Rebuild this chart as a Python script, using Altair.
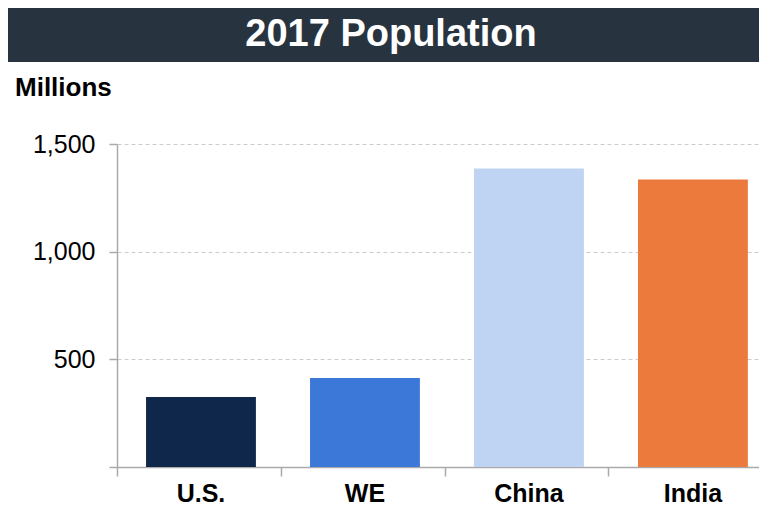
import altair as alt
import pandas as pd

categories = ["U.S.", "WE", "China", "India"]
values = [325, 413, 1386, 1335]
colors = ["#10274c", "#3c78d8", "#bfd4f2", "#ec7a3d"]
title_text = "2017 Population"
unit_label = "Millions"
y_ticks = [0, 500, 1000, 1500]

FONT = "Liberation Sans"

df = pd.DataFrame({"country": categories, "pop": values})
title_df = pd.DataFrame({"t": [title_text]})
unit_df = pd.DataFrame({"t": [unit_label]})

bars = alt.Chart(df).mark_bar().encode(
    x=alt.X(
        "country:N",
        sort=categories,
        scale=alt.Scale(paddingInner=0.33, paddingOuter=0.1225, align=0.723),
        axis=alt.Axis(
            title=None, labelAngle=0, labelFont=FONT, labelFontSize=25,
            labelFontWeight="bold", labelColor="black", labelPadding=5,
            tickSize=9, tickColor="#aaaaaa", tickWidth=1.5,
            domainColor="#aaaaaa", domainWidth=1.5, bandPosition=-0.264, grid=False,
        ),
    ),
    y=alt.Y(
        "pop:Q",
        scale=alt.Scale(domain=[0, 1500], nice=False),
        axis=alt.Axis(
            values=y_ticks, format=",.0f", title=None,
            labelExpr="datum.value == 0 ? '' : datum.label",
            labelFont=FONT, labelFontSize=25, labelColor="black", labelPadding=14,
            tickSize=8, tickColor="#aaaaaa", tickWidth=1.5,
            domainColor="#aaaaaa", domainWidth=1.5,
            grid=True, gridColor="#cccccc", gridDash=[4, 3], gridWidth=1,
        ),
    ),
    color=alt.Color("country:N", scale=alt.Scale(domain=categories, range=colors), legend=None),
)

banner = alt.Chart(title_df).mark_rect(color="#27343f").encode(
    x=alt.value(-109), x2=alt.value(642), y=alt.value(-136), y2=alt.value(-82)
)

title = alt.Chart(title_df).mark_text(
    font=FONT, fontSize=38, fontWeight="bold", color="white", align="center", baseline="middle"
).encode(text="t:N", x=alt.value(274), y=alt.value(-109))

unit = alt.Chart(unit_df).mark_text(
    font=FONT, fontSize=26, fontWeight="bold", color="black", align="left", baseline="middle"
).encode(text="t:N", x=alt.value(-102), y=alt.value(-56))

chart = alt.layer(bars, banner, title, unit).properties(
    width=642, height=323,
    autosize=alt.AutoSizeParams(type="none"),
    padding={"left": 109, "top": 136, "right": 0, "bottom": 38},
).configure_view(stroke=None)

chart.save("out.html", embed_options={"renderer": "svg", "actions": False})
